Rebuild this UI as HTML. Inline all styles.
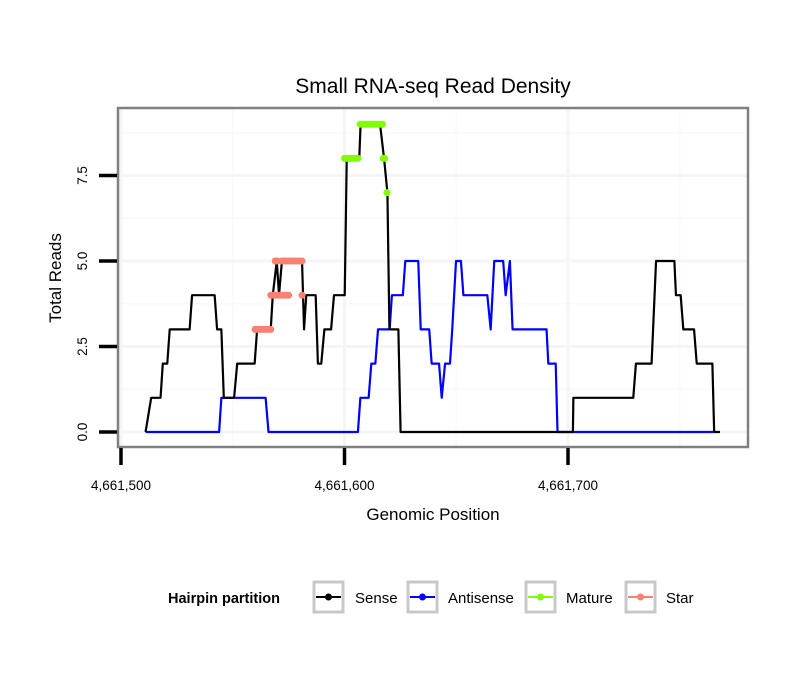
<!DOCTYPE html>
<html><head><meta charset="utf-8"><style>
body{margin:0;background:#fff;}
svg text{font-family:"Liberation Sans",sans-serif;}
</style></head><body>
<svg id="chart" width="810" height="690" viewBox="0 0 810 690" xmlns="http://www.w3.org/2000/svg">
<rect width="810" height="690" fill="#fff"/>
<text x="433" y="93" font-size="21" text-anchor="middle">Small RNA-seq Read Density</text>
<g id="grid"></g>
<g id="series"></g>
<rect x="118" y="108" width="630" height="339" fill="none" stroke="#808080" stroke-width="2.5"/>
<g id="axes"></g>
<text x="433" y="520" font-size="17" text-anchor="middle">Genomic Position</text>
<text transform="translate(61,278) rotate(-90)" font-size="17" text-anchor="middle">Total Reads</text>
<g>
<text x="168" y="603" font-size="14.5" font-weight="bold">Hairpin partition</text>
<g><rect x="314" y="582" width="29" height="30" fill="#fff" stroke="#c8c8c8" stroke-width="3"/><line x1="316" y1="597" x2="341" y2="597" stroke="#000" stroke-width="2"/><circle cx="328.5" cy="597" r="3.5" fill="#000"/><text x="355" y="603" font-size="15">Sense</text></g>
<g><rect x="408" y="582" width="29" height="30" fill="#fff" stroke="#c8c8c8" stroke-width="3"/><line x1="410" y1="597" x2="435" y2="597" stroke="#0000ff" stroke-width="2"/><circle cx="422.5" cy="597" r="3.5" fill="#0000ff"/><text x="448" y="603" font-size="15">Antisense</text></g>
<g><rect x="526" y="582" width="29" height="30" fill="#fff" stroke="#c8c8c8" stroke-width="3"/><line x1="528" y1="597" x2="553" y2="597" stroke="#7fff00" stroke-width="2"/><circle cx="540.5" cy="597" r="3.5" fill="#7fff00"/><text x="566" y="603" font-size="15">Mature</text></g>
<g><rect x="626" y="582" width="29" height="30" fill="#fff" stroke="#c8c8c8" stroke-width="3"/><line x1="628" y1="597" x2="653" y2="597" stroke="#fa8072" stroke-width="2"/><circle cx="640.5" cy="597" r="3.5" fill="#fa8072"/><text x="666" y="603" font-size="15">Star</text></g>
</g>
</svg>
<script>
const xTicks=[4661500,4661600,4661700];
const xTickLabels=["4,661,500","4,661,600","4,661,700"];
const xMinor=[4661550,4661650,4661750];
const yTicks=[0,2.5,5,7.5];
const yTickLabels=["0.0","2.5","5.0","7.5"];
const yMinor=[1.25,3.75,6.25,8.75];
const senseX=[4661511,4661513.5,4661517.7,4661518.7,4661520.7,4661521.8,4661530.7,4661531.8,4661541.9,4661543,4661544.9,4661546,4661550.6,4661552,4661559.8,4661560.9,4661567,4661567.9,4661569.7,4661570.7,4661572,4661581,4661581.9,4661582.9,4661587.1,4661588.1,4661589.6,4661591,4661594,4661595.3,4661600.1,4661601,4661606.6,4661607.2,4661615.9,4661617.7,4661619.2,4661620.1,4661624.1,4661625.1,4661702.2,4661702.4,4661729.2,4661730.4,4661737.4,4661739.4,4661747.6,4661748.3,4661750.4,4661751.6,4661756.4,4661757.6,4661764.6,4661765.4,4661768];
const senseY=[0,1,1,2,2,3,3,4,4,3,3,1,1,2,2,3,3,4,5,4,5,5,3,4,4,2,2,3,3,4,4,8,8,9,9,8,7,3,3,0,0,1,1,2,2,5,5,4,4,3,3,2,2,0,0];
const antiX=[4661511,4661543.9,4661544.9,4661564.7,4661566,4661606,4661607.1,4661610.8,4661612,4661613.8,4661615,4661620.2,4661621.2,4661626.1,4661627.2,4661633,4661634.1,4661637.9,4661639,4661642.3,4661643.5,4661645,4661647.2,4661648.2,4661649.9,4661652.1,4661653.2,4661663.9,4661665.4,4661667,4661671,4661672.1,4661674,4661675.2,4661690.4,4661691.2,4661694.5,4661695.3,4661765];
const antiY=[0,0,1,1,0,0,1,1,2,2,3,3,4,4,5,5,3,3,2,2,1,2,2,3,5,5,4,4,3,5,5,4,5,3,3,2,2,0,0];
const matureX=[4661600,4661601,4661602,4661603,4661604,4661605,4661606,4661607,4661608,4661609,4661610,4661611,4661612,4661613,4661614,4661615,4661616,4661617,4661617.3,4661618,4661619];
const matureY=[8,8,8,8,8,8,8,9,9,9,9,9,9,9,9,9,9,9,8,8,7];
const starX=[4661560,4661561,4661562,4661563,4661564,4661565,4661566,4661567,4661567,4661568,4661569,4661570,4661571,4661572,4661573,4661574,4661575,4661581,4661569,4661570,4661572,4661573,4661574,4661575,4661576,4661577,4661578,4661579,4661580,4661581];
const starY=[3,3,3,3,3,3,3,3,4,4,4,4,4,4,4,4,4,4,5,5,5,5,5,5,5,5,5,5,5,5];

const NS='http://www.w3.org/2000/svg';
const X0=118,X1=748,Y0=108,Y1=447;
function sx(v){return 121+(v-4661500)*2.235;}
function sy(v){return 432-v*34.2;}
function mk(tag,attrs,parent){const e=document.createElementNS(NS,tag);for(const k in attrs)e.setAttribute(k,attrs[k]);parent.appendChild(e);return e;}
const grid=document.getElementById('grid'),axes=document.getElementById('axes'),series=document.getElementById('series');
yMinor.forEach(v=>{const l=mk('line',{x1:X0,x2:X1,y1:sy(v),y2:sy(v),stroke:'#fafafa','stroke-width':1.5},grid);

});
xMinor.forEach(v=>{const l=mk('line',{x1:sx(v),x2:sx(v),y1:Y0,y2:Y1,stroke:'#fafafa','stroke-width':1.5},grid);

});
yTicks.forEach((v,i)=>{const l=mk('line',{x1:X0,x2:X1,y1:sy(v),y2:sy(v),stroke:'#f5f5f5','stroke-width':3},grid);


const t=mk('line',{x1:99,x2:117,y1:sy(v),y2:sy(v),stroke:'#000','stroke-width':3.5},axes);


const tx=mk('text',{transform:`translate(87,${sy(v)}) rotate(-90)`,'font-size':13.5,'text-anchor':'middle'},axes);tx.textContent=yTickLabels[i];

});
xTicks.forEach((v,i)=>{const l=mk('line',{x1:sx(v),x2:sx(v),y1:Y0,y2:Y1,stroke:'#f5f5f5','stroke-width':3},grid);


const t=mk('line',{x1:sx(v),x2:sx(v),y1:448,y2:465,stroke:'#000','stroke-width':3.5},axes);


const tx=mk('text',{x:sx(v),y:490,'font-size':13.5,'text-anchor':'middle'},axes);tx.textContent=xTickLabels[i];

});
function line(xs,ys,color,name){const p=mk('polyline',{points:xs.map((x,i)=>sx(x)+','+sy(ys[i])).join(' '),fill:'none',stroke:color,'stroke-width':2.2,'stroke-linejoin':'round'},series);

}
line(antiX,antiY,'#0000ff','antisense-line');
line(senseX,senseY,'#000','sense-line');
function pts(xs,ys,color,name){xs.forEach((x,i)=>{const c=mk('circle',{cx:sx(x),cy:sy(ys[i]),r:3.5,fill:color},series);

});}
pts(starX,starY,'#fa8072','star-point');
pts(matureX,matureY,'#7fff00','mature-point');
</script>
</body></html>
